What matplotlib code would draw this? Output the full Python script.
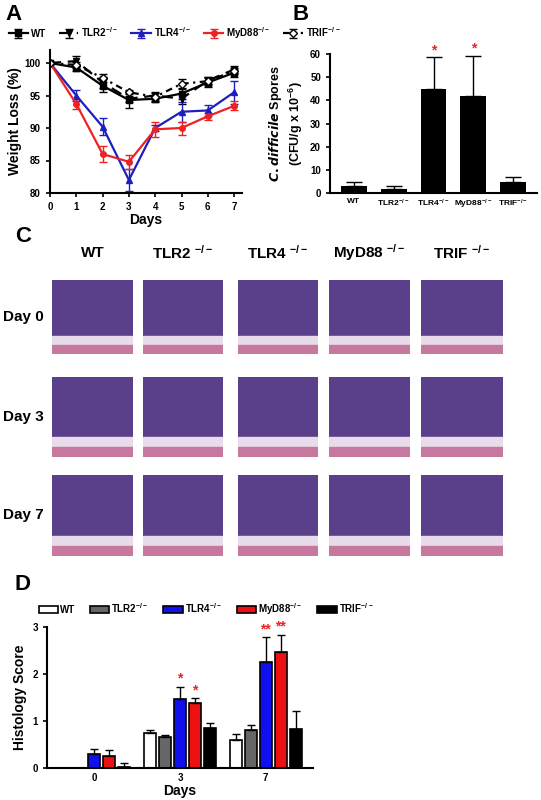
import matplotlib
matplotlib.use("Agg")
import matplotlib.pyplot as plt
from matplotlib.patches import Rectangle
import numpy as np

plt.rcParams['font.family'] = ['Liberation Sans', 'DejaVu Sans']
plt.rcParams['font.weight'] = 'bold'
plt.rcParams['mathtext.default'] = 'regular'

W, H = 541, 800
fig = plt.figure(figsize=(W/100, H/100), dpi=100)

def ax_px(x0, y0, x1, y1):
    return fig.add_axes([x0/W, 1-y1/H, (x1-x0)/W, (y1-y0)/H])

KO = '$^{-/-}$'

# ---------- Panel A data ----------
days = [0, 1, 2, 3, 4, 5, 6, 7]
wt = [100, 99.3, 96.5, 94.3, 94.5, 95.3, 97.0, 98.5]
wt_err = [0.2, 0.5, 1.0, 1.2, 0.5, 0.8, 0.7, 0.6]
tlr2 = [100, 100.3, 97.0, 94.5, 95.0, 94.5, 97.3, 99.0]
tlr2_err = [0.2, 0.8, 0.8, 0.5, 0.6, 0.8, 0.6, 0.5]
tlr4 = [100, 95.0, 90.2, 82.0, 90.0, 92.5, 92.7, 95.5]
tlr4_err = [0.2, 0.9, 1.3, 1.7, 0.5, 1.5, 0.8, 1.8]
myd88 = [100, 93.7, 86.0, 84.8, 89.8, 90.0, 91.8, 93.4]
myd88_err = [0.2, 0.7, 1.3, 1.1, 1.2, 1.0, 0.5, 0.7]
trif = [100, 99.7, 97.7, 95.5, 94.8, 96.8, 97.2, 98.8]
trif_err = [0.2, 0.5, 0.6, 0.3, 0.6, 0.8, 0.6, 0.5]

# ---------- Panel B data ----------
b_groups = ['WT', 'TLR2' + KO, 'TLR4' + KO, 'MyD88' + KO, 'TRIF' + KO]
spores = [3.2, 1.8, 45.0, 41.7, 4.8]
spores_err = [1.7, 1.3, 13.5, 17.5, 2.0]
spores_sig = ['', '', '*', '*', '']

# ---------- Panel D data ----------
d_days = ['0', '3', '7']
hist = {
    'WT':    ([0.0, 0.74, 0.59], [0.0, 0.07, 0.13]),
    'TLR2':  ([0.0, 0.66, 0.80], [0.0, 0.04, 0.12]),
    'TLR4':  ([0.29, 1.46, 2.25], [0.11, 0.27, 0.53]),
    'MyD88': ([0.25, 1.38, 2.46], [0.13, 0.11, 0.38]),
    'TRIF':  ([0.03, 0.85, 0.83], [0.08, 0.11, 0.39]),
}
hist_sig = {'TLR4': ['', '*', '**'], 'MyD88': ['', '*', '**']}

def style_spines(ax):
    for s in ['top', 'right']:
        ax.spines[s].set_visible(False)
    for s in ['left', 'bottom']:
        ax.spines[s].set_linewidth(1.5)

# ---------- Panel A ----------
axA = ax_px(50, 50, 242, 193)
styles = [
    (wt, wt_err, 'WT', 'black', '-', 's', 'black'),
    (tlr2, tlr2_err, 'TLR2' + KO, 'black', (0, (5, 3)), 'v', 'black'),
    (tlr4, tlr4_err, 'TLR4' + KO, '#1f1fbf', '-', '^', '#1f1fbf'),
    (myd88, myd88_err, 'MyD88' + KO, '#ee2222', '-', 'o', '#ee2222'),
    (trif, trif_err, 'TRIF' + KO, 'black', (0, (3, 2, 1, 2)), 'D', 'white'),
]
handles = []
for y, e, lab, c, ls, m, mfc in styles:
    h = axA.errorbar(days, y, yerr=e, color=c, ls=ls, marker=m, mfc=mfc, mec=c,
                     ms=4, lw=1.6, capsize=3, elinewidth=1, label=lab)
    handles.append(h)
axA.set_ylim(80, 102)
axA.set_xlim(0, 7.3)
axA.set_yticks([80, 85, 90, 95, 100])
axA.set_xticks(days)
axA.set_ylabel('Weight Loss (%)', fontsize=10, fontweight='bold', labelpad=2)
axA.set_xlabel('Days', fontsize=10, fontweight='bold', labelpad=1)
axA.tick_params(labelsize=7, length=3, width=1.2)
style_spines(axA)
fig.legend(handles=handles, loc='center left', bbox_to_anchor=(0, 1-33/H), ncol=5,
           frameon=False, fontsize=7, handlelength=2.0, columnspacing=1.3, handletextpad=0.3)
fig.text(5/W, 1-15/H, 'A', fontsize=16, fontweight='bold', va='center')

# ---------- Panel B ----------
axB = ax_px(330, 54, 537, 193)
xb = np.arange(len(b_groups))
axB.bar(xb, spores, width=0.65, color='black')
axB.errorbar(xb, spores, yerr=[np.zeros(5), spores_err], fmt='none', ecolor='black',
             capsize=6, elinewidth=1)
for xi, v, e, s in zip(xb, spores, spores_err, spores_sig):
    if s:
        axB.text(xi, v+e+1.5, s, color='#ee2222', ha='center', fontsize=10)
axB.set_ylim(0, 60)
axB.set_xlim(-0.6, 4.6)
axB.set_yticks([0, 10, 20, 30, 40, 50, 60])
axB.set_xticks(xb)
axB.set_xticklabels(b_groups, fontsize=6)
axB.tick_params(axis='y', labelsize=7, length=3, width=1.2)
axB.tick_params(axis='x', length=0)
axB.set_ylabel('$\\it{C.difficile}$ Spores\n(CFU/g x 10$^{-6}$)', fontsize=9, fontweight='bold')
style_spines(axB)
fig.text(292/W, 1-15/H, 'B', fontsize=16, fontweight='bold', va='center')

# ---------- Panel C (histology placeholders) ----------
fig.text(15/W, 1-237/H, 'C', fontsize=16, fontweight='bold', va='center')
c_heads = ['WT', 'TLR2 ' + KO, 'TLR4 ' + KO, 'MyD88 ' + KO, 'TRIF ' + KO]
c_cols = [(52, 133), (143, 223), (238, 318), (329, 410), (421, 503)]
c_rows = [(280, 354), (377, 457), (475, 556)]
c_rowlab = ['Day 0', 'Day 3', 'Day 7']
for (x0, x1), h in zip(c_cols, c_heads):
    fig.text((x0+x1)/2/W, 1-253/H, h, fontsize=11, fontweight='bold', ha='center', va='center')
for (y0, y1), rl in zip(c_rows, c_rowlab):
    fig.text(3/W, 1-(y0+y1)/2/H, rl, fontsize=11, fontweight='bold', va='center')
    for (x0, x1) in c_cols:
        a = ax_px(x0, y0, x1, y1)
        a.set_xlim(0, 1); a.set_ylim(0, 1)
        a.add_patch(Rectangle((0, 0.25), 1, 0.75, color='#5a3f8a'))
        a.add_patch(Rectangle((0, 0.12), 1, 0.13, color='#e8dcea'))
        a.add_patch(Rectangle((0, 0), 1, 0.12, color='#c7789f'))
        a.axis('off')

# ---------- Panel D ----------
fig.text(15/W, 1-585/H, 'D', fontsize=16, fontweight='bold', va='center')
axD = ax_px(47, 627, 313, 768)
names = ['WT', 'TLR2', 'TLR4', 'MyD88', 'TRIF']
labs = ['WT', 'TLR2' + KO, 'TLR4' + KO, 'MyD88' + KO, 'TRIF' + KO]
fcs = ['white', '#666666', '#1010ee', '#ee1111', 'black']
bw = 0.14
xd = np.arange(3)
bars = []
for i, (n, fc, lab) in enumerate(zip(names, fcs, labs)):
    v, e = hist[n]
    xs = xd + (i-2)*bw*1.25
    b = axD.bar(xs, v, width=bw, color=fc, edgecolor='black', lw=1.2, label=lab)
    bars.append(b)
    axD.errorbar(xs, v, yerr=[np.zeros(3), e], fmt='none', ecolor='black', capsize=3, elinewidth=1)
    if n in hist_sig:
        for xi, vi, ei, s in zip(xs, v, e, hist_sig[n]):
            if s:
                axD.text(xi, vi+ei+0.08, s, color='#ee2222', ha='center', fontsize=10)
axD.set_ylim(0, 3)
axD.set_xlim(-0.55, 2.55)
axD.set_yticks([0, 1, 2, 3])
axD.set_xticks(xd)
axD.set_xticklabels(d_days)
axD.tick_params(labelsize=7, length=3, width=1.2)
axD.tick_params(axis='x', length=0)
axD.set_ylabel('Histology Score', fontsize=10, fontweight='bold')
axD.set_xlabel('Days', fontsize=10, fontweight='bold', labelpad=1)
style_spines(axD)
fig.legend(handles=bars, loc='center left', bbox_to_anchor=(30/W, 1-609/H), ncol=5,
           frameon=False, fontsize=7, handlelength=2.0, handleheight=0.8,
           columnspacing=1.5, handletextpad=0.2)

fig.savefig('out.png', dpi=100)
